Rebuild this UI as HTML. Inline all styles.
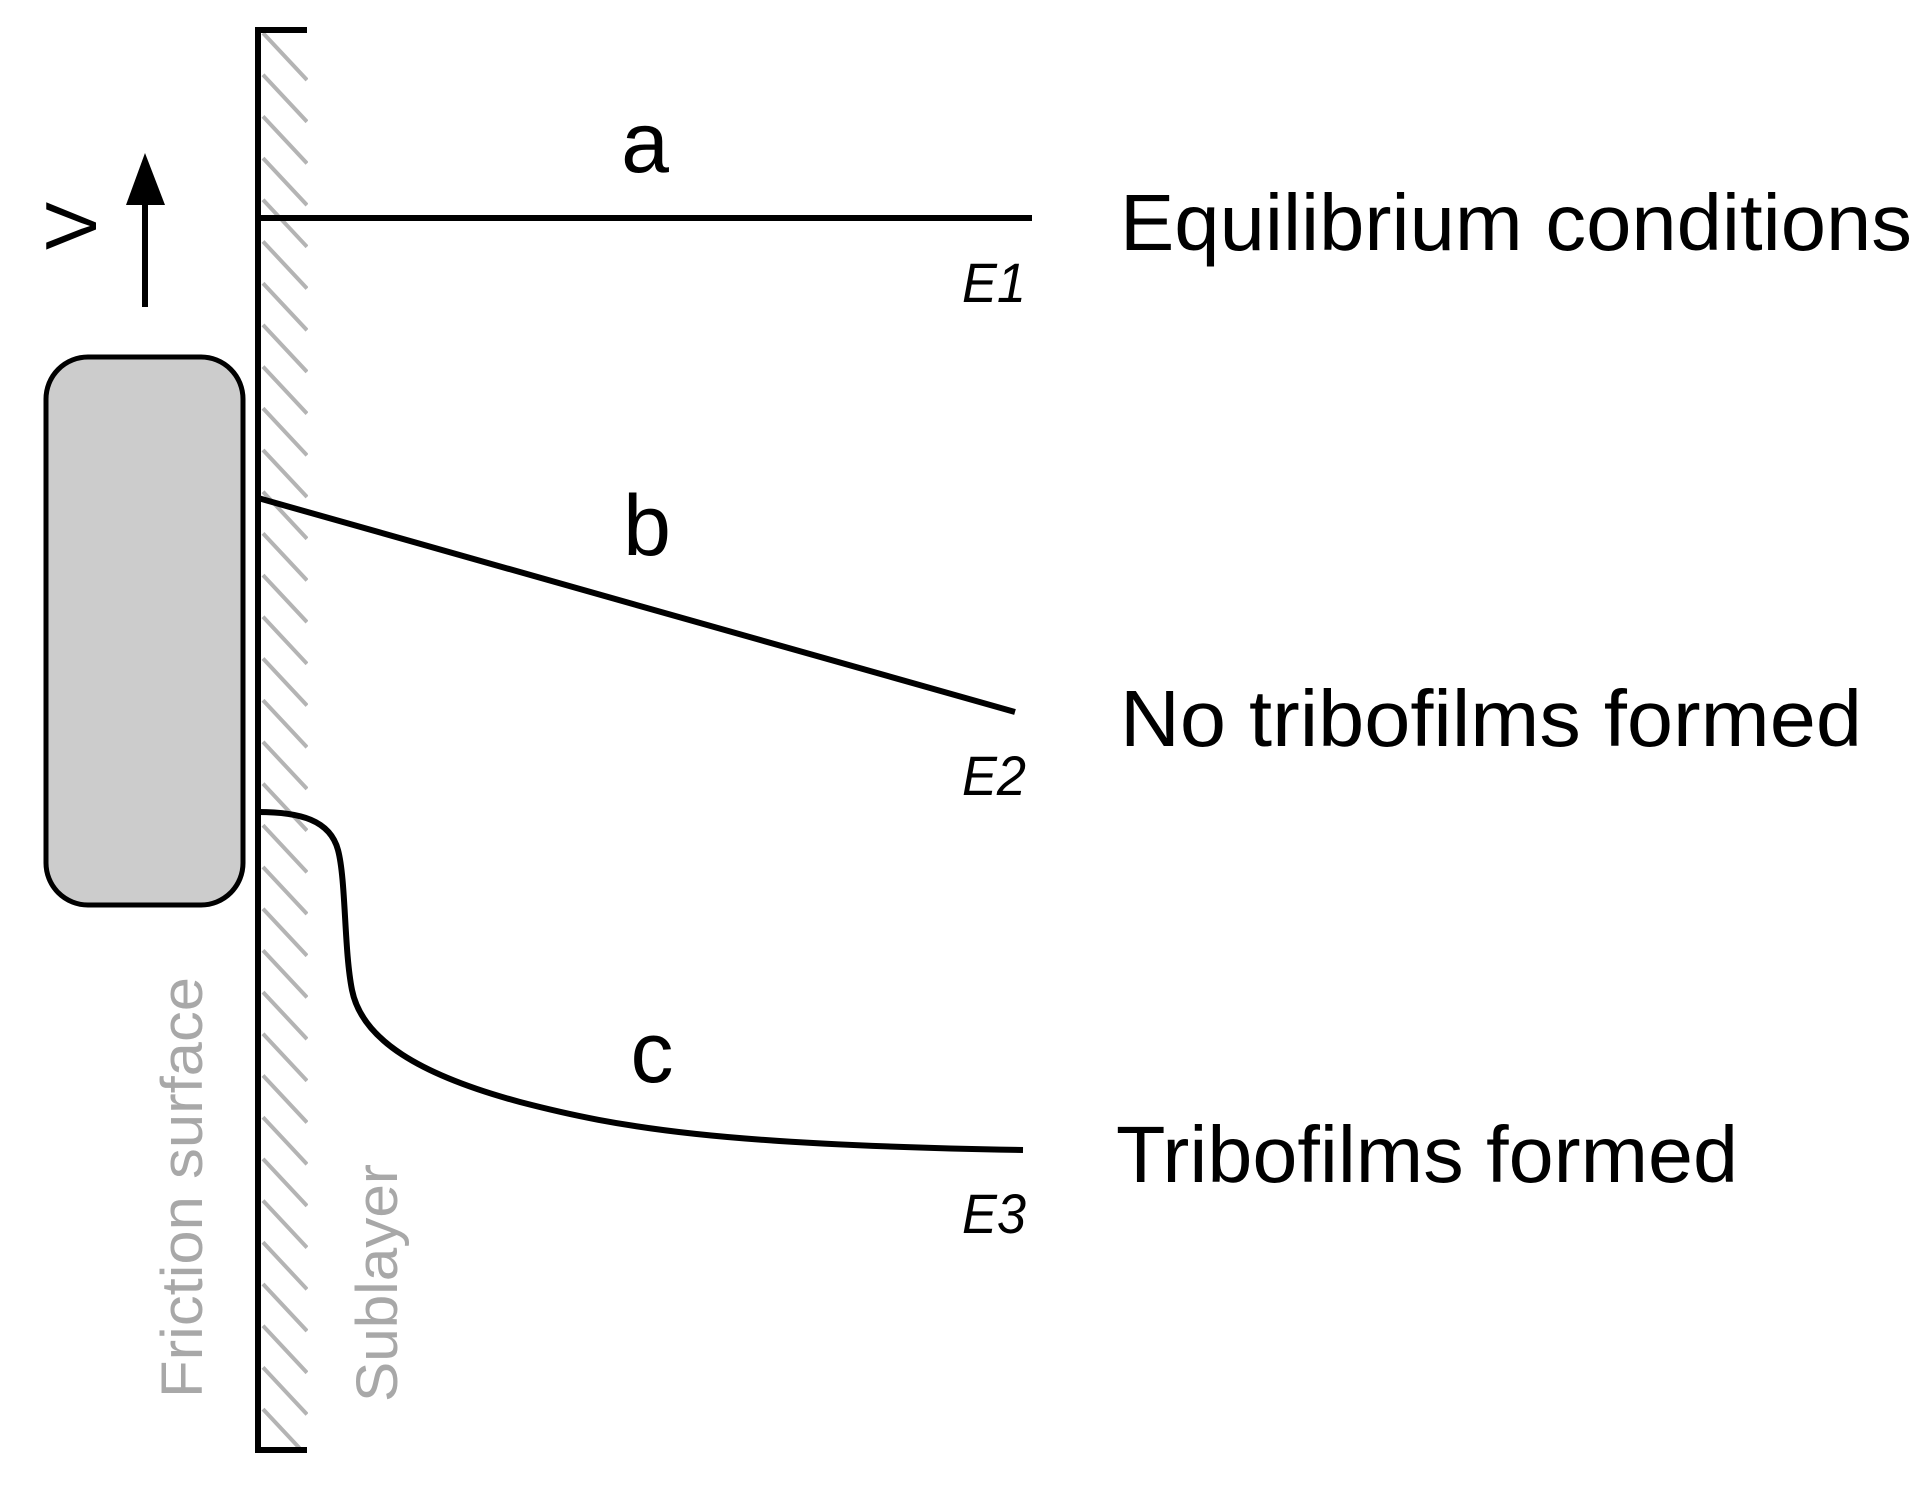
<!DOCTYPE html>
<html><head><meta charset="utf-8"><style>html,body{margin:0;padding:0;background:#fff}svg{display:block}</style></head>
<body>
<svg width="1931" height="1500" viewBox="0 0 1931 1500" xmlns="http://www.w3.org/2000/svg">
<defs><clipPath id="cl"><rect x="260" y="30" width="48" height="1420"/></clipPath></defs>
<g clip-path="url(#cl)" stroke="#b4b4b4" stroke-width="4" fill="none">
<path d="M263 33l44 47M263 74.7l44 47M263 116.4l44 47M263 158.1l44 47M263 199.8l44 47M263 241.5l44 47M263 283.2l44 47M263 324.9l44 47M263 366.6l44 47M263 408.3l44 47M263 450l44 47M263 491.7l44 47M263 533.4l44 47M263 575.1l44 47M263 616.8l44 47M263 658.5l44 47M263 700.2l44 47M263 741.9l44 47M263 783.6l44 47M263 825.3l44 47M263 867l44 47M263 908.7l44 47M263 950.4l44 47M263 992.1l44 47M263 1033.8l44 47M263 1075.5l44 47M263 1117.2l44 47M263 1158.9l44 47M263 1200.6l44 47M263 1242.3l44 47M263 1284l44 47M263 1325.7l44 47M263 1367.4l44 47M263 1409.1l44 47"/>
</g>
<path d="M307 30H258V1450H307" fill="none" stroke="#000" stroke-width="6"/>
<rect x="46" y="357" width="197" height="548" rx="42" fill="#cccccc" stroke="#000" stroke-width="5"/>
<line x1="145" y1="307" x2="145" y2="200" stroke="#000" stroke-width="6"/>
<polygon points="126,205 165,205 145,153" fill="#000"/>
<text transform="translate(96,226) rotate(-90)" text-anchor="middle" font-family="Liberation Sans, sans-serif" font-size="72" fill="#000">V</text>
<line x1="258" y1="218" x2="1032" y2="218" stroke="#000" stroke-width="6"/>
<line x1="258" y1="498" x2="1015" y2="712" stroke="#000" stroke-width="6"/>
<path d="M258 812 C300 812 330 820 338 850 C346 880 344 950 352 990 C362 1040 420 1075 520 1102 C620 1128 720 1145 1023 1150" fill="none" stroke="#000" stroke-width="6"/>
<g font-family="Liberation Sans, sans-serif" fill="#000">
<text x="645" y="172" text-anchor="middle" font-size="86">a</text>
<text x="647" y="555" text-anchor="middle" font-size="86">b</text>
<text x="652" y="1082" text-anchor="middle" font-size="86">c</text>
<text x="1120" y="250" font-size="80" textLength="792" lengthAdjust="spacingAndGlyphs">Equilibrium conditions</text>
<text x="1120" y="746" font-size="80" textLength="742" lengthAdjust="spacingAndGlyphs">No tribofilms formed</text>
<text x="1116" y="1182" font-size="80" textLength="622" lengthAdjust="spacingAndGlyphs">Tribofilms formed</text>
<g font-style="italic" font-size="56">
<text x="962" y="302" textLength="64" lengthAdjust="spacingAndGlyphs">E1</text>
<text x="962" y="795" textLength="64" lengthAdjust="spacingAndGlyphs">E2</text>
<text x="962" y="1233" textLength="64" lengthAdjust="spacingAndGlyphs">E3</text>
</g>
</g>
<g font-family="Liberation Sans, sans-serif" fill="#a8a8a8" font-size="58">
<text transform="translate(202,1398) rotate(-90)" textLength="421" lengthAdjust="spacingAndGlyphs">Friction surface</text>
<text transform="translate(397,1402) rotate(-90)" textLength="238" lengthAdjust="spacingAndGlyphs">Sublayer</text>
</g>
</svg>
</body></html>
